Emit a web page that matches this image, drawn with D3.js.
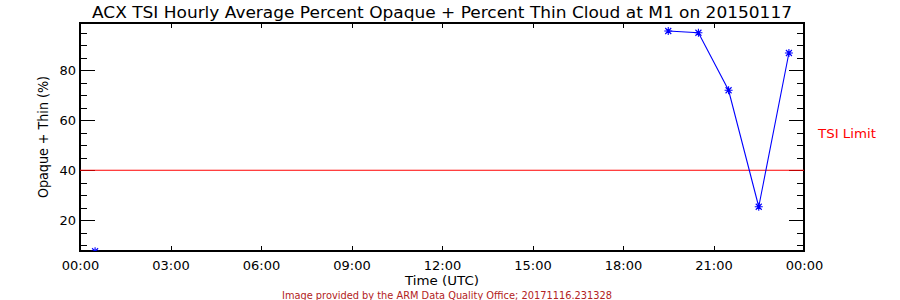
<!DOCTYPE html>
<html lang="en">
<head>
  <meta charset="UTF-8">
  <title>ACX TSI Hourly Average Percent Opaque + Percent Thin Cloud</title>
  <script src="https://d3js.org/d3.v7.min.js"></script>
  <style>
    body { margin: 0; background: #fff; }
    svg { display: block; font-family: "DejaVu Sans", sans-serif; }
    .axis text { font-size: 13px; fill: #000; font-family: "DejaVu Sans", sans-serif; }
    .axis line { stroke: #000; shape-rendering: crispEdges; }
    .axis path { display: none; }
  </style>
</head>
<body>
<svg width="900" height="300"></svg>
<script>
  // hourly averages, value at the half hour, null = no data
  const hours = d3.range(24).map(h => h + 0.5);
  const cover = [7.6, null, null, null, null, null, null, null, null, null, null, null,
                 null, null, null, null, null, null, null, 95.7, 95.0, 72.0, 25.4, 86.9];
  const limit = 40;
  const xTickHours = [0, 3, 6, 9, 12, 15, 18, 21, 24];
  const xTickLabels = ["00:00", "03:00", "06:00", "09:00", "12:00", "15:00", "18:00", "21:00", "00:00"];
  const yMajor = [20, 40, 60, 80];
  const yMinor = [10, 15, 25, 30, 35, 45, 50, 55, 65, 70, 75, 85, 90, 95];

  const svg = d3.select("svg");
  const m = { left: 80, right: 804, top: 23, bottom: 251 };

  const x = d3.scaleLinear().domain([0, 24]).range([m.left, m.right]);
  const y = d3.scaleLinear().domain([7.7, 98.9]).range([m.bottom, m.top]);

  svg.append("rect").attr("width", 900).attr("height", 300).attr("fill", "#fff");

  // axes
  svg.append("g").attr("class", "axis")
    .attr("transform", `translate(0,${m.bottom})`)
    .call(d3.axisBottom(x).tickValues(xTickHours).tickSize(-5).tickSizeOuter(0).tickPadding(9)
      .tickFormat((d, i) => xTickLabels[i]));
  svg.append("g").attr("class", "axis")
    .attr("transform", `translate(0,${m.top})`)
    .call(d3.axisTop(x).tickValues(xTickHours).tickSize(-5).tickSizeOuter(0).tickFormat(""));

  svg.append("g").attr("class", "axis")
    .attr("transform", `translate(${m.left},0)`)
    .call(d3.axisLeft(y).tickValues(yMajor).tickSize(-15).tickSizeOuter(0).tickPadding(4));
  svg.append("g").attr("class", "axis")
    .attr("transform", `translate(${m.left},0)`)
    .call(d3.axisLeft(y).tickValues(yMinor).tickSize(-7).tickSizeOuter(0).tickFormat(""));
  svg.append("g").attr("class", "axis")
    .attr("transform", `translate(${m.right},0)`)
    .call(d3.axisRight(y).tickValues(yMajor).tickSize(-15).tickSizeOuter(0).tickFormat(""));
  svg.append("g").attr("class", "axis")
    .attr("transform", `translate(${m.right},0)`)
    .call(d3.axisRight(y).tickValues(yMinor).tickSize(-7).tickSizeOuter(0).tickFormat(""));

  svg.selectAll(".axis text").attr("dy", null);
  svg.selectAll(".axis text").filter(function () { return this.textContent; })
    .each(function () {
      const t = d3.select(this);
      if (t.attr("y") !== null && +t.attr("y") > 0) t.attr("y", 18.5).attr("font-size", 12.5);
      else t.attr("dy", "0.36em");
    });

  // frame
  svg.append("rect")
    .attr("x", m.left).attr("y", m.top)
    .attr("width", m.right - m.left).attr("height", m.bottom - m.top)
    .attr("fill", "none").attr("stroke", "#000").attr("stroke-width", 1.3)
    .attr("shape-rendering", "crispEdges");

  // TSI limit
  svg.append("line")
    .attr("x1", m.left).attr("x2", m.right)
    .attr("y1", y(limit)).attr("y2", y(limit))
    .attr("stroke", "#ff0000").attr("stroke-width", 1.2);
  svg.append("text").attr("x", 818).attr("y", 138)
    .attr("fill", "#ff0000").attr("font-size", 13).attr("textLength", 58).attr("lengthAdjust", "spacingAndGlyphs")
    .text("TSI Limit");

  // data
  svg.append("clipPath").attr("id", "plot")
    .append("rect").attr("x", m.left).attr("y", m.top)
    .attr("width", m.right - m.left).attr("height", m.bottom - m.top);

  const pts = hours.map((h, i) => ({ h, v: cover[i] }));
  const g = svg.append("g").attr("clip-path", "url(#plot)");

  g.append("path").datum(pts)
    .attr("fill", "none").attr("stroke", "#0000ff").attr("stroke-width", 1.1)
    .attr("d", d3.line().defined(d => d.v != null).x(d => x(d.h)).y(d => y(d.v)));

  const r = 4, q = 3;
  const star = `M${-r},0H${r}M0,${-r}V${r}M${-q},${-q}L${q},${q}M${-q},${q}L${q},${-q}`;
  g.selectAll(".mk").data(pts.filter(d => d.v != null)).enter().append("path")
    .attr("class", "mk")
    .attr("transform", d => `translate(${x(d.h)},${y(d.v)})`)
    .attr("d", star)
    .attr("stroke", "#0000ff").attr("stroke-width", 1.1).attr("fill", "none");

  // titles
  svg.append("text").attr("x", 442).attr("y", 18).attr("text-anchor", "middle")
    .attr("font-size", 16).attr("textLength", 700).attr("lengthAdjust", "spacingAndGlyphs")
    .text("ACX TSI Hourly Average Percent Opaque + Percent Thin Cloud at M1 on 20150117");

  svg.append("text").attr("x", 442).attr("y", 285).attr("text-anchor", "middle")
    .attr("font-size", 12).attr("textLength", 74).attr("lengthAdjust", "spacingAndGlyphs")
    .text("Time (UTC)");

  svg.append("text")
    .attr("transform", `translate(48,${(m.top + m.bottom) / 2}) rotate(-90)`)
    .attr("text-anchor", "middle").attr("font-size", 14)
    .attr("textLength", 122).attr("lengthAdjust", "spacingAndGlyphs")
    .text("Opaque + Thin (%)");

  svg.append("text").attr("x", 447).attr("y", 298.5).attr("text-anchor", "middle")
    .attr("font-size", 10).attr("fill", "#b22222")
    .attr("textLength", 330).attr("lengthAdjust", "spacingAndGlyphs")
    .text("Image provided by the ARM Data Quality Office; 20171116.231328");
</script>
</body>
</html>
